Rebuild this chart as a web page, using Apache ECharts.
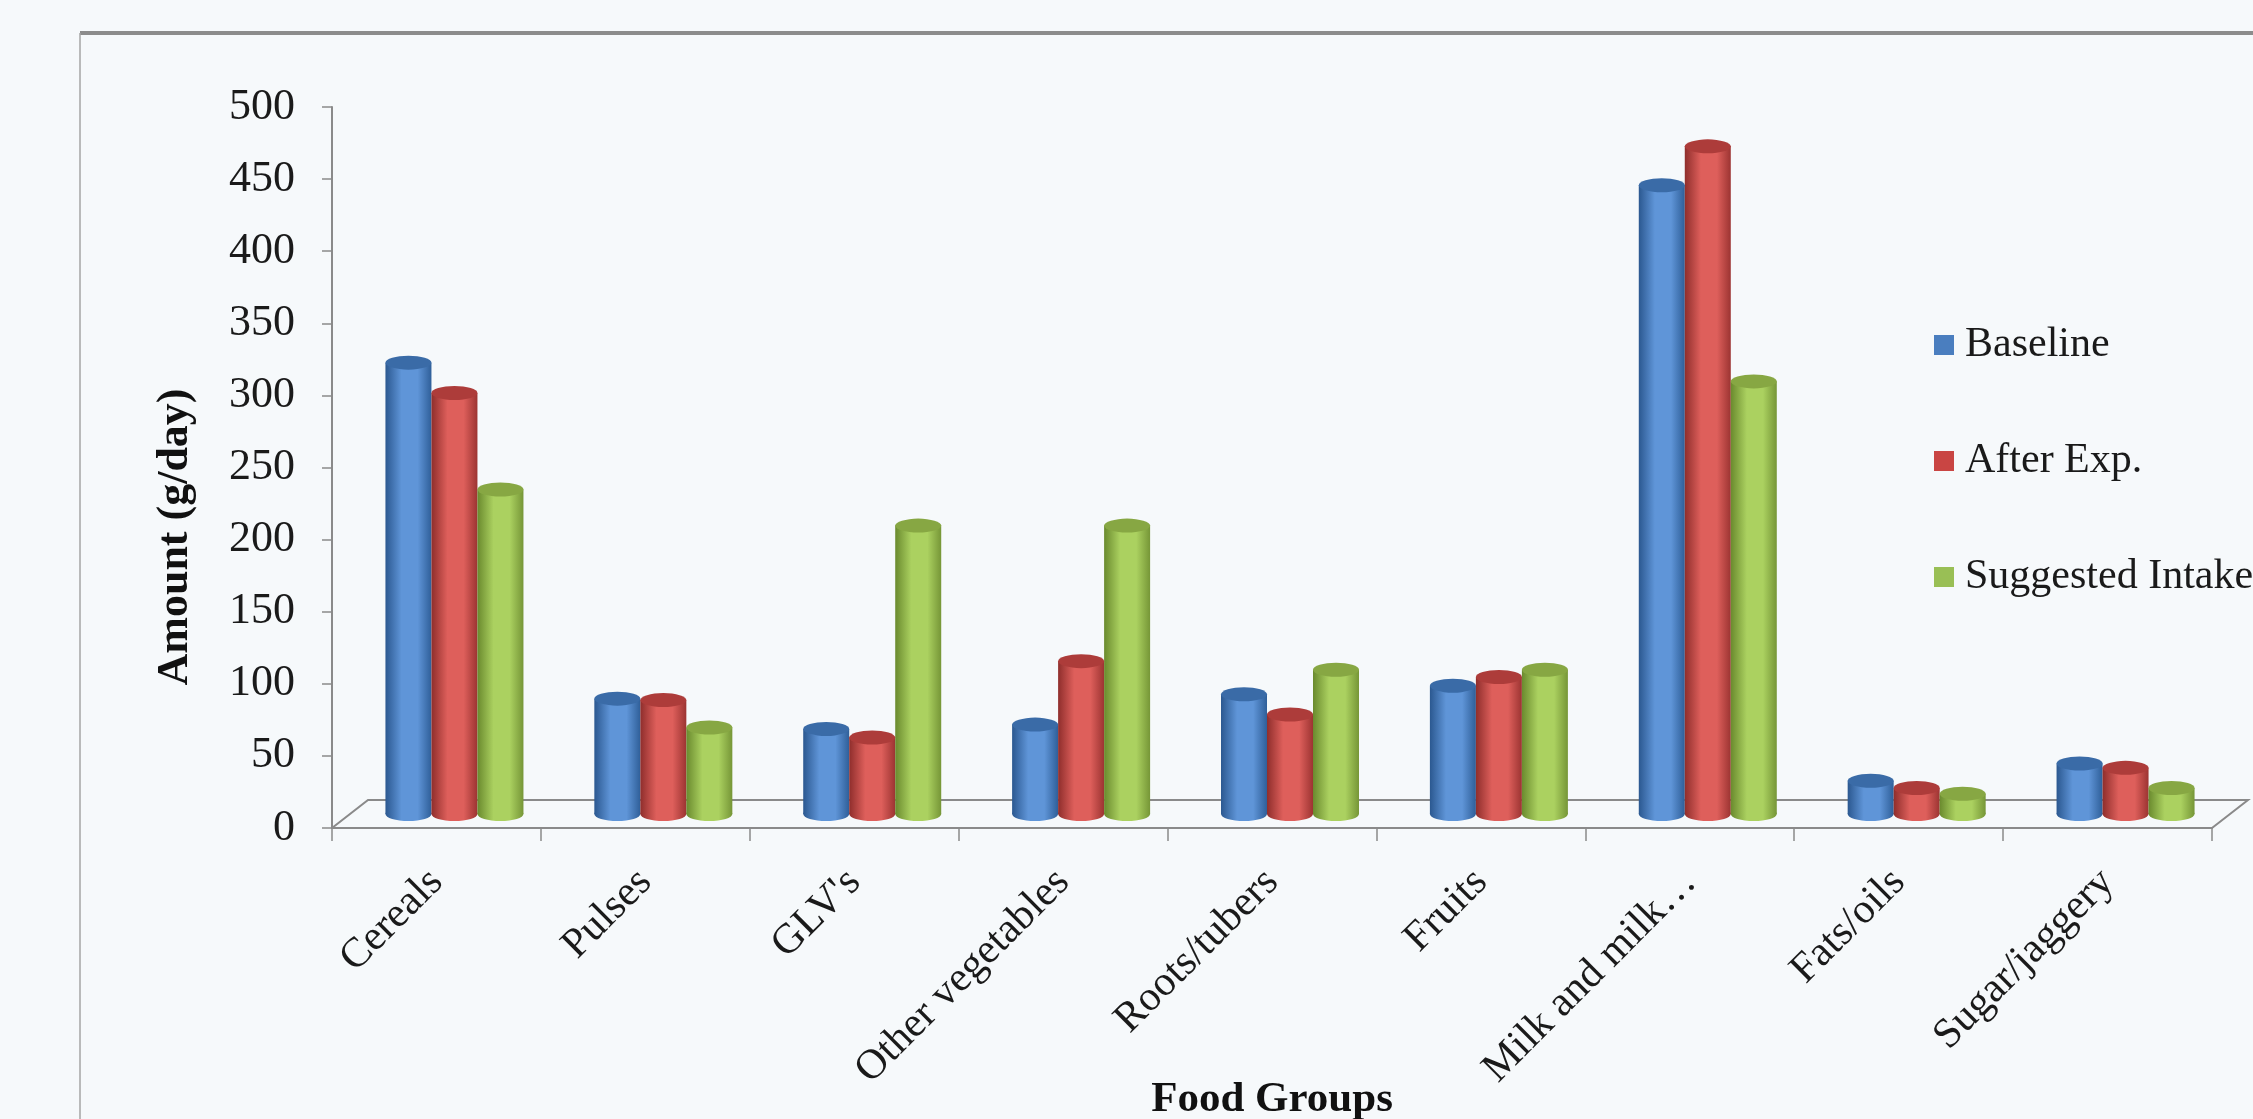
<!DOCTYPE html>
<html>
<head>
<meta charset="utf-8">
<script src="https://cdn.jsdelivr.net/npm/echarts@6/dist/echarts.min.js"></script>
<style>
html,body{margin:0;padding:0;background:#f6f9fb;}
#chart{width:2253px;height:1119px;}
</style>
</head>
<body>
<div id="chart"></div>
<script>
// ---- data ----
const categories = ['Cereals', 'Pulses', "GLV's", 'Other vegetables', 'Roots/tubers', 'Fruits', 'Milk and milk\u2026', 'Fats/oils', 'Sugar/jaggery'];
const seriesNames = ['Baseline', 'After Exp.', 'Suggested Intake'];
const baseline  = [313, 80, 59, 62, 83, 89, 436, 23, 35];
const afterExp  = [292, 79, 53, 106, 69, 95, 463, 18, 32];
const suggested = [225, 60, 200, 200, 100, 100, 300, 14, 18];
const yMin = 0, yMax = 500, yStep = 50;
const yTitle = 'Amount (g/day)';
const xTitle = 'Food Groups';

// ---- layout / style ----
const L = 332, R = 2212, T = 107, B = 828, DX = 36, DY = 28;
const BAR_W = 46;
const FONT = "'Liberation Serif', 'Times New Roman', serif";
const palettes = [
  {edge: '#2b5890', light: '#5f95d8', right: '#2f5f99', cap: '#3a6ba7', legend: '#4a7ebf'},
  {edge: '#8f2e2c', light: '#de5f5b', right: '#9c3432', cap: '#ad3c3a', legend: '#c94543'},
  {edge: '#6a8a2e', light: '#abd160', right: '#769637', cap: '#87a743', legend: '#99bf55'}
];
const allData = [baseline, afterExp, suggested];

function bodyGrad(p) {
  return new echarts.graphic.LinearGradient(0, 0, 1, 0, [
    {offset: 0, color: p.edge},
    {offset: 0.35, color: p.light},
    {offset: 0.7, color: p.light},
    {offset: 1, color: p.right}
  ]);
}

const series = [];
allData.forEach((d, i) => {
  const p = palettes[i];
  series.push({
    name: seriesNames[i], type: 'bar', xAxisIndex: 1, yAxisIndex: 1,
    data: d, barWidth: BAR_W, barGap: '0%', z: 3,
    itemStyle: {color: bodyGrad(p)}
  });
});
allData.forEach((d, i) => {
  const p = palettes[i];
  series.push({
    name: seriesNames[i] + ' top', type: 'pictorialBar', xAxisIndex: 2, yAxisIndex: 1,
    data: d, barWidth: BAR_W, barGap: '0%', symbol: 'circle',
    symbolSize: [BAR_W, 14], symbolPosition: 'end', symbolOffset: [0, '-50%'],
    z: 5, itemStyle: {color: p.cap}
  });
});
allData.forEach((d, i) => {
  const p = palettes[i];
  series.push({
    name: seriesNames[i] + ' bottom', type: 'pictorialBar', xAxisIndex: 3, yAxisIndex: 1,
    data: d, barWidth: BAR_W, barGap: '0%', symbol: 'circle',
    symbolSize: [BAR_W, 14], symbolPosition: 'start', symbolOffset: [0, '50%'],
    z: 2, itemStyle: {color: bodyGrad(p)}
  });
});

const hiddenX = () => ({type: 'category', gridIndex: 1, data: categories, show: false});

const chart = echarts.init(document.getElementById('chart'), null, {renderer: 'canvas'});
chart.setOption({
  backgroundColor: '#f6f9fb',
  animation: false,
  textStyle: {fontFamily: FONT},
  grid: [
    {left: L, top: T, width: R - L, height: B - T, containLabel: false, outerBoundsMode: 'none'},
    {left: L + DX / 2, top: T - DY / 2, width: R - L, height: B - T, containLabel: false, outerBoundsMode: 'none'}
  ],
  xAxis: [
    {
      type: 'category', gridIndex: 0, data: categories,
      axisLine: {lineStyle: {color: '#8a8a8a', width: 2}},
      axisTick: {show: true, length: 13, lineStyle: {color: '#8a8a8a', width: 1.5}},
      axisLabel: {rotate: 45, margin: 48, fontSize: 42, color: '#1a1a1a', fontFamily: FONT, interval: 0}
    },
    hiddenX(), hiddenX(), hiddenX()
  ],
  yAxis: [
    {
      type: 'value', gridIndex: 0, min: yMin, max: yMax, interval: yStep,
      axisLine: {show: true, lineStyle: {color: '#8a8a8a', width: 2}},
      axisTick: {show: true, length: 10, lineStyle: {color: '#8a8a8a', width: 1.5}},
      splitLine: {show: false},
      axisLabel: {fontSize: 44, margin: 37, color: '#1a1a1a', fontFamily: FONT}
    },
    {type: 'value', gridIndex: 1, min: yMin, max: yMax, interval: yStep, show: false, splitLine: {show: false}}
  ],
  legend: {
    orient: 'vertical', left: 1929, top: 319, itemWidth: 20, itemHeight: 20, itemGap: 74,
    icon: 'rect',
    textStyle: {fontSize: 42, color: '#1a1a1a', fontFamily: FONT, padding: [0, 0, 0, 6]},
    data: seriesNames.map((n, i) => ({name: n, itemStyle: {color: palettes[i].legend}}))
  },
  graphic: [
    {type: 'polyline', z: 1, silent: true,
     shape: {points: [[L, B], [L + DX, B - DY], [R + DX, B - DY], [R, B]]},
     style: {fill: null, stroke: '#8a8a8a', lineWidth: 2}},
    {type: 'line', z: 0, silent: true, shape: {x1: 80, y1: 33, x2: 2253, y2: 33},
     style: {stroke: '#8c8c8c', lineWidth: 4}},
    {type: 'line', z: 0, silent: true, shape: {x1: 80, y1: 33, x2: 80, y2: 1119},
     style: {stroke: '#a5a5a5', lineWidth: 1.5}},
    {type: 'text', z: 10, silent: true, x: 176, y: 537, rotation: Math.PI / 2,
     style: {text: yTitle, fill: '#111', font: 'bold 44px ' + FONT, align: 'center', verticalAlign: 'middle'}},
    {type: 'text', z: 10, silent: true, x: (L + R) / 2, y: 1100,
     style: {text: xTitle, fill: '#111', font: 'bold 43px ' + FONT, align: 'center', verticalAlign: 'middle'}}
  ],
  series: series
});
</script>
</body>
</html>
